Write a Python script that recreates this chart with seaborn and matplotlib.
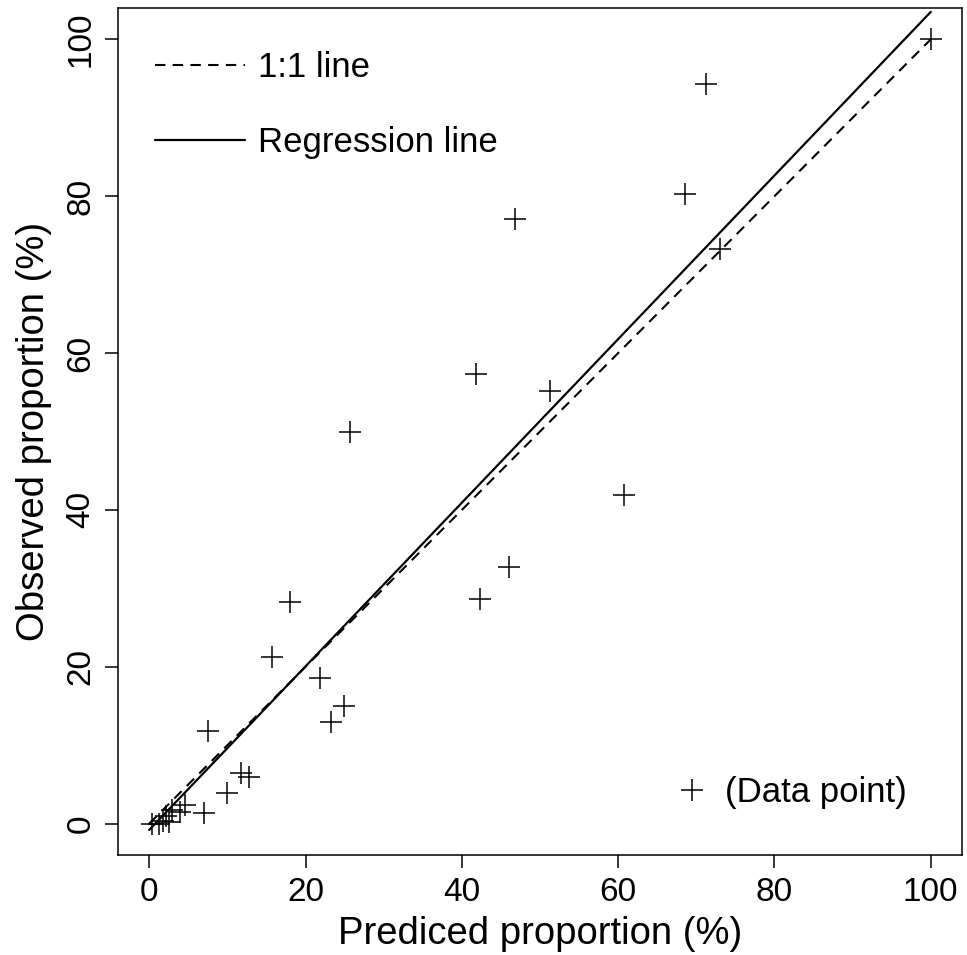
import matplotlib
matplotlib.use("Agg")
import matplotlib.pyplot as plt
import seaborn as sns
import pandas as pd
import numpy as np
from matplotlib.lines import Line2D

# ---- data ----
predicted = [100, 71.2, 68.5, 73.0, 46.8, 41.8, 51.3, 25.7, 60.8, 46.0, 42.3,
             18.0, 15.7, 21.8, 24.9, 23.2, 7.5, 11.7, 12.8, 10.0, 7.0, 4.6,
             3.9, 2.9, 2.2, 0.4, 1.2, 1.7, 2.5]
observed = [100, 94.3, 80.3, 73.3, 77.1, 57.3, 55.2, 49.9, 41.9, 32.7, 28.6,
            28.3, 21.3, 18.6, 15.0, 13.0, 11.8, 6.4, 5.9, 3.9, 1.4, 2.4,
            1.5, 1.7, 1.0, 0.0, 0.0, 0.3, 0.2]
line_x = [0, 100]
reg_intercept = -0.8
reg_slope = 1.043
tick_values = [0, 20, 40, 60, 80, 100]
x_label = "Prediced proportion (%)"
y_label = "Observed proportion (%)"
legend_labels = ["1:1 line", "Regression line", "(Data point)"]

df = pd.DataFrame({"pred": predicted, "obs": observed})
lines = pd.DataFrame({
    "x": line_x + line_x,
    "y": line_x + [reg_intercept + reg_slope * v for v in line_x],
    "kind": ["1:1"] * 2 + ["reg"] * 2,
})

sns.set_style("ticks")
plt.rcParams["font.family"] = ["Liberation Sans", "DejaVu Sans"]
plt.rcParams["text.color"] = "black"
plt.rcParams["axes.labelcolor"] = "black"
plt.rcParams["xtick.color"] = "black"
plt.rcParams["ytick.color"] = "black"

fig = plt.figure(figsize=(9.67, 9.55), dpi=100)
ax = fig.add_axes([118 / 967, 1 - 855 / 955, (962 - 118) / 967, (855 - 8) / 955])

sns.lineplot(data=lines[lines.kind == "1:1"], x="x", y="y", ax=ax,
             color="black", linewidth=1.5)
ax.lines[-1].set_dashes([5, 3.5])
sns.lineplot(data=lines[lines.kind == "reg"], x="x", y="y", ax=ax,
             color="black", linewidth=1.6)
sns.scatterplot(data=df, x="pred", y="obs", ax=ax, marker="+", s=260,
                color="black", linewidth=1.1, zorder=3)

ax.set_xlim(-4, 104)
ax.set_ylim(-4, 104)
ax.set_xticks(tick_values)
ax.set_yticks(tick_values)
ax.set_yticklabels([str(v) for v in tick_values], rotation=90, va="center")
ax.tick_params(axis="both", labelsize=24, length=9.5, width=1.1, color="black",
               pad=6, labelcolor="black")
ax.set_xlabel(x_label, fontsize=27.5, labelpad=6, color="black")
ax.set_ylabel(y_label, fontsize=27.5, labelpad=10, color="black")
for sp in ax.spines.values():
    sp.set_visible(True)
    sp.set_linewidth(1.1)
    sp.set_color("black")

h1 = Line2D([], [], color="black", linewidth=1.5, dashes=[5, 3.5])
h2 = Line2D([], [], color="black", linewidth=1.6)
leg1 = ax.legend([h1, h2], legend_labels[:2], loc="upper left",
                 bbox_to_anchor=(0.044, 0.949), frameon=False, fontsize=25,
                 handlelength=2.6, handletextpad=0.35, labelspacing=1.2,
                 borderpad=0, borderaxespad=0, labelcolor="black")
ax.add_artist(leg1)
h3 = Line2D([], [], color="black", linestyle="none", marker="+",
            markersize=16, markeredgewidth=1.1)
ax.legend([h3], legend_labels[2:], loc="lower right",
          bbox_to_anchor=(0.935, 0.054), frameon=False, fontsize=25,
          handlelength=1.0, handletextpad=0.45, borderpad=0, borderaxespad=0,
          labelcolor="black")

fig.savefig("out.png", dpi=100)
